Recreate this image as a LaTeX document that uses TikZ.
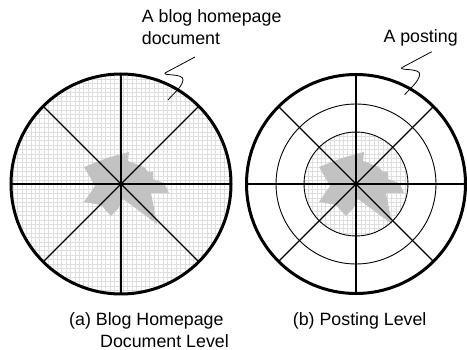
\documentclass[tikz,border=0pt]{standalone}
\usepackage{fontspec}
\setmainfont{Liberation Sans}
\usetikzlibrary{calc}
\begin{document}
\begin{tikzpicture}[x=1pt,y=-1pt,
  outer/.style={line width=3pt},
  spoke/.style={line width=1.4pt},
  ring/.style={line width=0.9pt},
  gridline/.style={draw=black!13, line width=0.6pt},
  blob/.style={fill=black!24, draw=none},
  squig/.style={line width=0.8pt},
  lbl/.style={font=\fontsize{17.8}{21.5}\selectfont, inner sep=0pt, align=left}]
\useasboundingbox (0,0) rectangle (467,350);
\coordinate (L) at (121,184);
\coordinate (R) at (356,184);
% grids
\begin{scope}
  \clip (L) circle (110);
  \draw[gridline] (0,60) grid[xstep=4.4pt,ystep=4.4pt] (240,300);
\end{scope}
\begin{scope}
  \clip (R) circle (52);
  \draw[gridline] (290,120) grid[xstep=4.4pt,ystep=4.4pt] (420,250);
\end{scope}
% blobs
\foreach \c in {L,R}{
  \fill[blob, shift={(\c)}] (-37,-17) -- (-14,-26) -- (-3,-29) -- (8,-32) -- (7,-23) -- (23,-17) -- (27,-12) -- (32,-12) -- (32,-5) -- (43,-1) -- (48,9) -- (30,9) -- (36,40) -- (2,15) -- (-3,25) -- (-10,32) -- (-20,21) -- (-37,18) -- (-26,2) -- cycle;
}
% rings
\draw[ring] (R) circle (80);
\draw[ring] (R) circle (52);
% spokes
\foreach \c in {L,R}{
  \foreach \a in {0,45,90,135}{
    \draw[spoke] ($(\c)+(\a:110)$) -- ($(\c)+(\a+180:110)$);
  }
}
% outer circles
\draw[outer] (L) circle (110);
\draw[outer] (R) circle (109.5);
% squiggles
\draw[squig] (195,57) -- (165,73) .. controls (162,76) and (184,73) .. (183,80) .. controls (182,87) and (174,93) .. (168,100);
\draw[squig] (431.7,51.7) -- (401.7,67.7) .. controls (398.7,70.7) and (420.7,67.7) .. (419.7,74.7) .. controls (418.7,81.7) and (410.7,87.7) .. (404.7,94.7);
% labels
\node[lbl, anchor=base west] (t1) at (141.7,44.3) {A blog homepage\\document};
\node[lbl, anchor=base west] (t2) at (383.3,42.3) {A posting};
\node[lbl, anchor=base west] (c1) at (69,347.3) {(a) Blog Homepage\\\hspace*{31pt}Document Level};
\node[lbl, anchor=base west] (c2) at (292.7,326) {(b) Posting Level};
\end{tikzpicture}
\end{document}
